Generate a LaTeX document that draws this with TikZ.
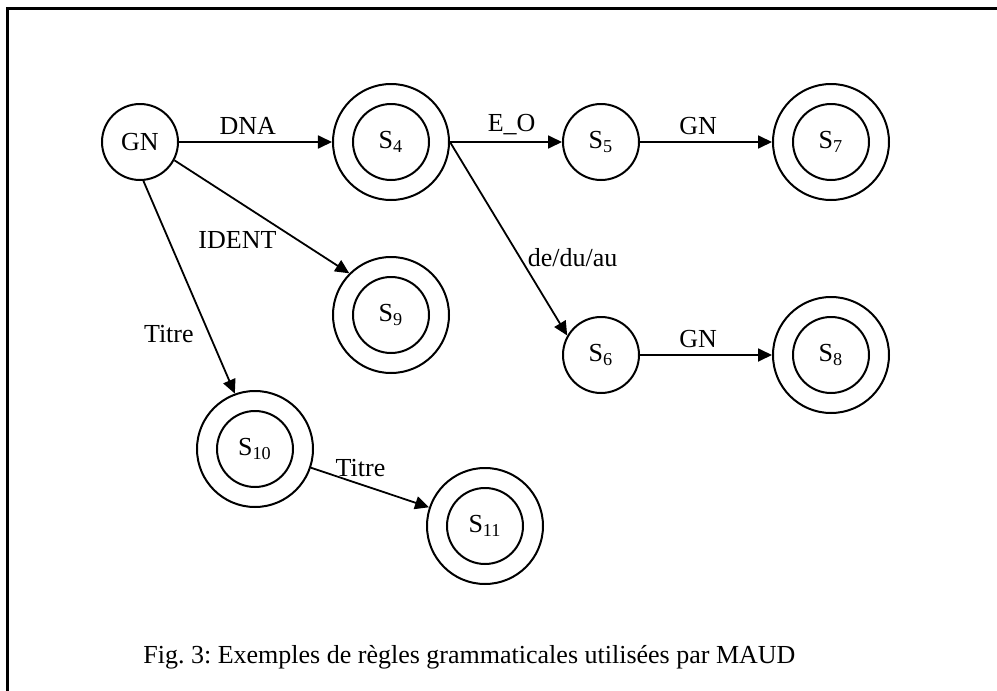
\documentclass[tikz,border=0pt]{standalone}
\usepackage{fontspec}
\setmainfont{Liberation Serif}
\usepackage{tikz}
\usetikzlibrary{arrows.meta, positioning}
\tikzstyle{line} = [draw, line width=0.9pt, -{Triangle[length=7pt,width=6.5pt]}]

\begin{document}
\begin{tikzpicture}[node distance=2cm and 2cm, font=\fontsize{13pt}{15pt}\selectfont]
  \useasboundingbox (-70pt,-274.5pt) rectangle (428.5pt,71pt);
  % Define styles
  \tikzstyle{state} = [circle, on grid, draw=black, line width=1pt, minimum size=38pt, inner sep=0pt, text centered]
  \tikzstyle{final} = [state, minimum size=58pt, path picture={\draw[line width=1pt] (path picture bounding box.center) circle (19pt);}]

  % Frame
  \draw [line width=1.5pt] (-66pt,-280pt) -- (-66pt,67pt) -- (435pt,67pt);

  % Place nodes
  \node [state] (gn) {GN};
  \node [final, right=125.5pt of gn] (s4) {S\textsubscript{4}};
  \node [state, right=105pt of s4] (s5) {S\textsubscript{5}};
  \node [final, right=115pt of s5] (s7) {S\textsubscript{7}};
  \node [final, below=86.5pt of s4] (s9) {S\textsubscript{9}};
  \node [state, below=106.5pt of s5] (s6) {S\textsubscript{6}};
  \node [final, right=115pt of s6] (s8) {S\textsubscript{8}};
  \node [final, below right=153.5pt and 57.5pt of gn] (s10) {S\textsubscript{10}};
  \node [final, below right=38.5pt and 115pt of s10] (s11) {S\textsubscript{11}};
  \node [anchor=west, inner sep=0pt] (caption) at (1.5pt,-257.5pt) {\frenchspacing Fig. 3: Exemples de règles grammaticales utilisées par MAUD};

  % Draw edges
  \path [line] (gn) -- node[pos=.45, above] {DNA} (s4);
  \path [line] (s4) -- node[pos=.55, above] {E\_O} (s5);
  \path [line] (s5) -- node[pos=.44, above] {GN} (s7);
  \path [line] (s4.east) -- node[pos=.6, right] {de/du/au} (s6.150);
  \path [line] (s6) -- node[pos=.44, above] {GN} (s8);
  \path [line] (gn.-28) -- node[pos=.6, anchor=north east, inner sep=1pt] {IDENT} (s9.135);
  \path [line] (gn.-85) -- node[pos=.72, left=4pt] {Titre} (s10.110);
  \path [line] (s10) -- node[pos=.42, above] {Titre} (s11);
\end{tikzpicture}
\end{document}
